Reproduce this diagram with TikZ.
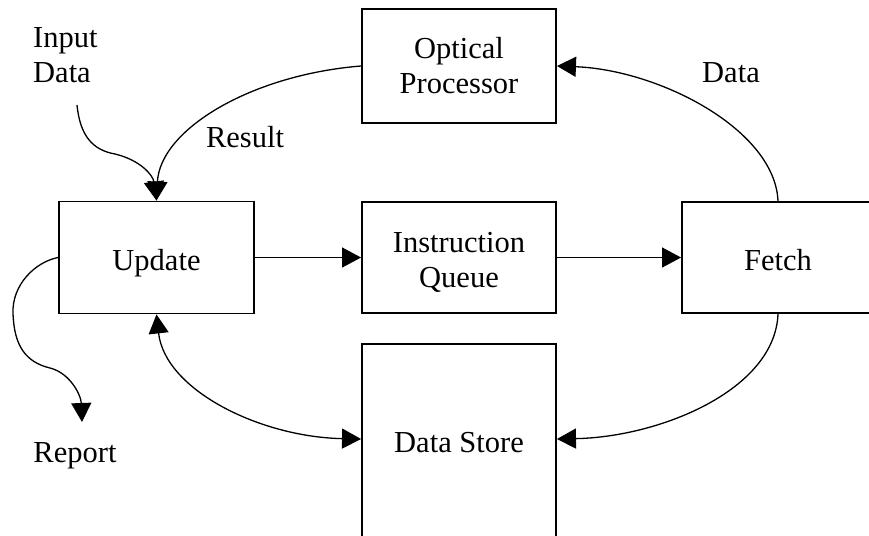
\documentclass[tikz,border=0pt]{standalone}
\usepackage{fontspec}
\setmainfont{Liberation Serif}
\usetikzlibrary{arrows.meta}

\begin{document}
\begin{tikzpicture}[x=1pt, y=-1pt,
  every node/.style={font=\fontsize{30.5}{35}\selectfont, inner sep=0pt},
  blk/.style={draw, line width=1.9pt, rectangle, fill=none},
  lbl/.style={align=center},
  conn/.style={line width=1.3pt, -{Triangle[length=19pt, width=20pt]}},
  dconn/.style={line width=1.3pt, {Triangle[length=19pt, width=20pt]}-{Triangle[length=19pt, width=20pt]}}
]
\useasboundingbox (0,0) rectangle (869,535);
\clip (0,0) rectangle (869,535);
\fill[white] (0,0) rectangle (869,535);

% blocks
\node[blk, minimum width=194pt, minimum height=114pt] (op)    at (459,66)    {};
\node[blk, minimum width=195pt, minimum height=112pt] (upd)   at (156.5,257.5) {};
\node[blk, minimum width=194pt, minimum height=111pt] (iq)    at (459,257.5) {};
\node[blk, minimum width=192pt, minimum height=111pt] (fetch) at (778,257.5) {};
\node[blk, minimum width=194pt, minimum height=194pt] (ds)    at (459,441)   {};

% block captions
\node[lbl] (opT)    at (op.center)                 {Optical\\Processor};
\node[lbl] (updT)   at ([yshift=-5.5pt]upd.center) {Update};
\node[lbl] (iqT)    at ([yshift=-5pt]iq.center)    {Instruction\\Queue};
\node[lbl] (fetchT) at ([yshift=-3pt]fetch.center) {Fetch};
\node[lbl] (dsT)    at ([yshift=-1.5pt]ds.center)  {Data Store};

% free labels
\node[align=left, anchor=west] (inT) at (33,55.4) {Input\\Data};
\node (resT)  at (245,137)  {Result};
\node (dataT) at (731,72.5) {Data};
\node (repT)  at (75,456)   {Report};

% loose ends
\coordinate (inp) at (77,105);
\coordinate (rep) at (82,422);

% straight flow
\draw[conn] (upd.east) -- (iq.west);
\draw[conn] (iq.east) -- (fetch.west);

% curved flows
\draw[conn] (op.west) .. controls (250,75) and (160,130) .. (upd.north);
\draw[conn] (inp) .. controls (80,135) and (92,150) .. (115,154)
                  .. controls (140,160) and (153,175) .. (upd.north);
\draw[conn] (upd.west) .. controls (35,262) and (12,285) .. (13,313)
                       .. controls (14,345) and (25,362) .. (50,368)
                       .. controls (70,373) and (81,395) .. (rep);
\draw[conn] (fetch.north) .. controls (775,130) and (660,70) .. (op.east);
\draw[conn] (fetch.south) .. controls (775,390) and (660,437) .. ([yshift=2pt]ds.east);
\draw[dconn] (upd.south) .. controls (165,390) and (260,437) .. ([yshift=2pt]ds.west);
\end{tikzpicture}
\end{document}
